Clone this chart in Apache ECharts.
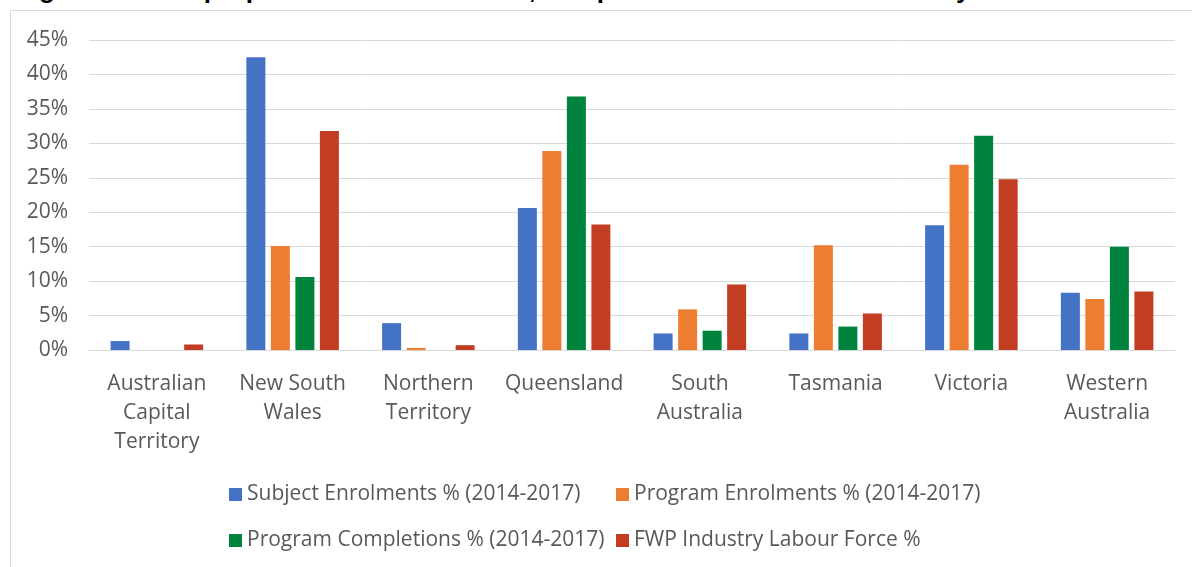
<!DOCTYPE html>
<html>
<head>
<meta charset="utf-8">
<script src="https://cdn.jsdelivr.net/npm/echarts@6/dist/echarts.min.js"></script>
<style>
  html, body { margin: 0; padding: 0; background: #fff; overflow: hidden; }
  #wrap { position: relative; width: 1192px; height: 567px; }
  #title { position: absolute; left: 16px; top: -25px; font: bold 26px "Liberation Sans", Arial, sans-serif; line-height: 29px; color: #000; white-space: nowrap; }
  #frame { position: absolute; left: 10px; top: 10px; width: 1182px; height: 557px; border-left: 1px solid #d9d9d9; border-top: 1px solid #d9d9d9; }
  #chart { position: absolute; left: 0; top: 0; width: 1192px; height: 567px; }
</style>
</head>
<body>
<div id="wrap">
  <div id="title">Figure 3: State proportions of enrolments, completions and the FWP industry labour force</div>
  <div id="frame"></div>
  <div id="chart"></div>
</div>
<script>
// states along the x axis
var states = ['Australian\nCapital\nTerritory', 'New South\nWales', 'Northern\nTerritory', 'Queensland',
              'South\nAustralia', 'Tasmania', 'Victoria', 'Western\nAustralia'];

// values in percent
var subjectEnrol = [1.3, 42.5, 3.9, 20.6, 2.4, 2.4, 18.1, 8.3];
var programEnrol = [0, 15.1, 0.3, 28.9, 5.9, 15.2, 26.9, 7.4];
var programCompl = [0, 10.6, 0, 36.8, 2.8, 3.4, 31.1, 15.0];
var labourForce  = [0.8, 31.8, 0.7, 18.2, 9.5, 5.3, 24.8, 8.5];

var seriesNames = ['Subject Enrolments % (2014-2017)', 'Program Enrolments % (2014-2017)',
                   'Program Completions % (2014-2017)', 'FWP Industry Labour Force %'];
var colors = ['#4472C4', '#ED7D31', '#00843D', '#C33D22'];

var font = '"Open Sans", "Liberation Sans", sans-serif';
var grey = '#595959';

var chart = echarts.init(document.getElementById('chart'));

function bar(i, data) {
    return {
        name: seriesNames[i],
        type: 'bar',
        data: data,
        barWidth: 19,
        barGap: '29%',
        itemStyle: { color: colors[i] },
        animation: false
    };
}

var legendText = { color: grey, fontSize: 21, fontFamily: font, lineHeight: 20 };

chart.setOption({
    animation: false,
    grid: { left: 89, right: 17, top: 40, bottom: 217 },
    legend: [
        {
            data: [seriesNames[0], seriesNames[2]],
            orient: 'vertical', left: 224, top: 479,
            itemWidth: 13, itemHeight: 13, itemGap: 25,
            icon: 'rect', textStyle: legendText
        },
        {
            data: [seriesNames[1], seriesNames[3]],
            orient: 'vertical', left: 611, top: 479,
            itemWidth: 13, itemHeight: 13, itemGap: 25,
            icon: 'rect', textStyle: legendText
        }
    ],
    xAxis: {
        type: 'category',
        data: states,
        axisLine: { lineStyle: { color: '#d9d9d9', width: 1 } },
        axisTick: { show: false },
        axisLabel: { color: grey, fontSize: 21, fontFamily: font, lineHeight: 29, margin: 20, interval: 0 }
    },
    yAxis: {
        type: 'value',
        min: 0, max: 45, interval: 5,
        axisLine: { show: false },
        axisTick: { show: false },
        splitLine: { lineStyle: { color: '#d9d9d9', width: 1 } },
        axisLabel: { color: grey, fontSize: 21, fontFamily: font, margin: 21, formatter: '{value}%' }
    },
    series: [
        bar(0, subjectEnrol),
        bar(1, programEnrol),
        bar(2, programCompl),
        bar(3, labourForce)
    ]
});
</script>
</body>
</html>
